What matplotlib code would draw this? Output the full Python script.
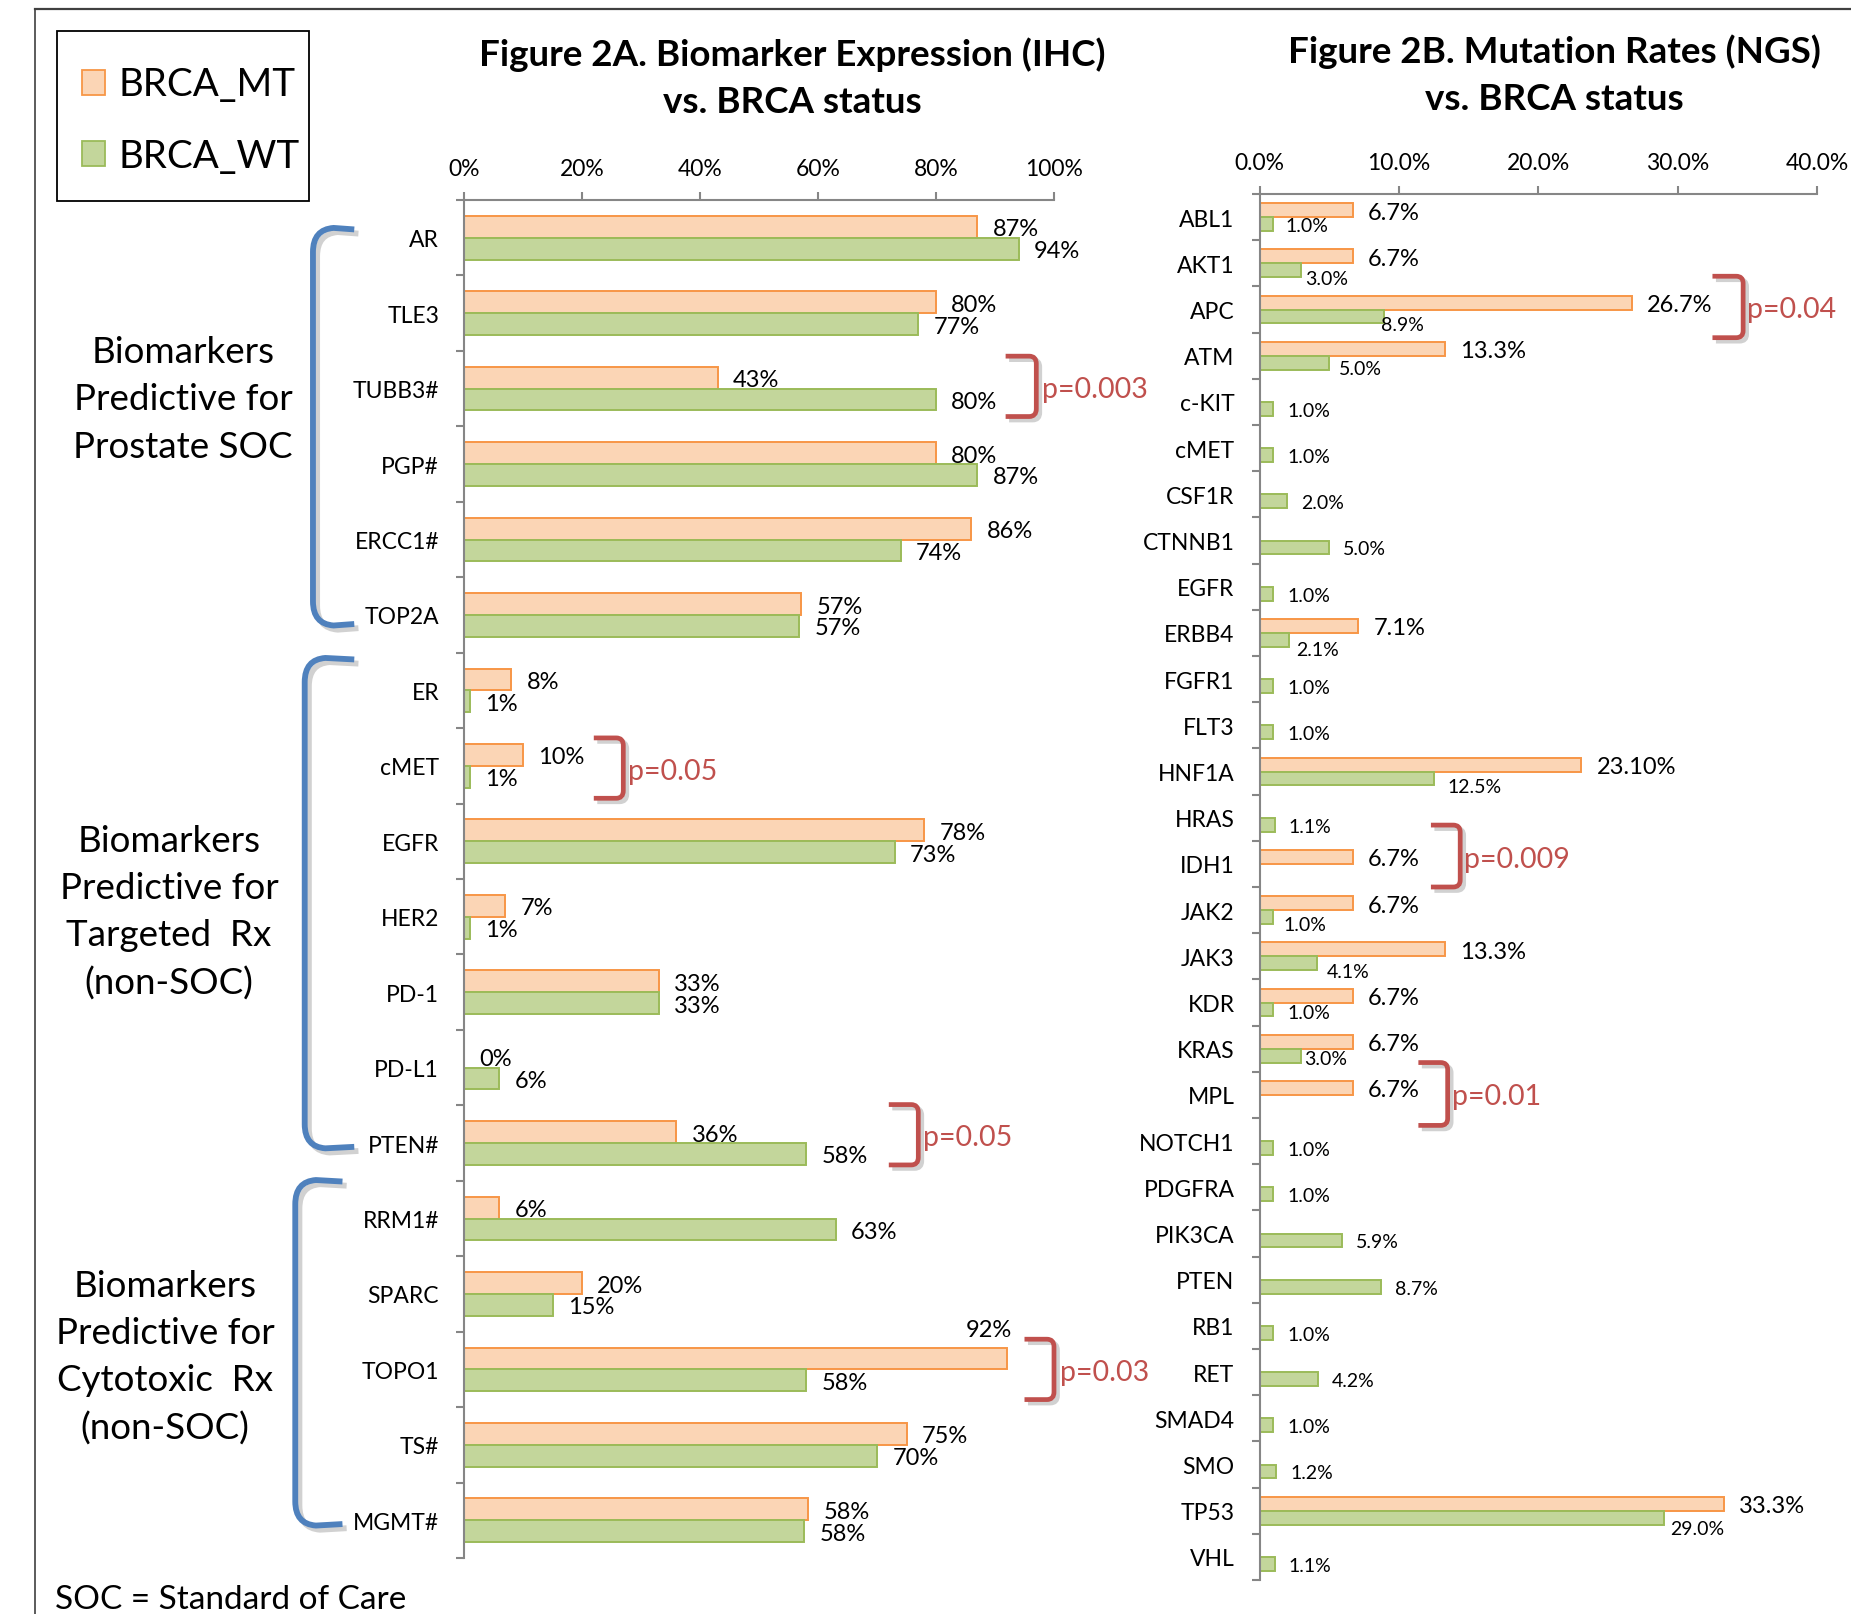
import matplotlib
matplotlib.use('Agg')
import matplotlib.pyplot as plt
from matplotlib.path import Path
from matplotlib.patches import PathPatch, Rectangle
from matplotlib.lines import Line2D
from matplotlib.ticker import FuncFormatter, FixedLocator
import matplotlib.patheffects as pe
import numpy as np

plt.rcParams['font.family'] = ['Lato', 'DejaVu Sans']

# ---------------- data ----------------
series_names = ['BRCA_MT', 'BRCA_WT']

ihc_markers = ['AR', 'TLE3', 'TUBB3#', 'PGP#', 'ERCC1#', 'TOP2A',
               'ER', 'cMET', 'EGFR', 'HER2', 'PD-1', 'PD-L1', 'PTEN#',
               'RRM1#', 'SPARC', 'TOPO1', 'TS#', 'MGMT#']
ihc_mt = [87, 80, 43, 80, 86, 57.2, 8, 10, 78, 7, 33, 0, 36, 6, 20, 92, 75, 58.3]
ihc_wt = [94, 77, 80, 87, 74, 56.8, 1, 1, 73, 1, 33, 6, 58, 63, 15, 58, 70, 57.7]
ihc_ticks = [0, 20, 40, 60, 80, 100]

ngs_genes = ['ABL1', 'AKT1', 'APC', 'ATM', 'c-KIT', 'cMET', 'CSF1R', 'CTNNB1',
             'EGFR', 'ERBB4', 'FGFR1', 'FLT3', 'HNF1A', 'HRAS', 'IDH1', 'JAK2',
             'JAK3', 'KDR', 'KRAS', 'MPL', 'NOTCH1', 'PDGFRA', 'PIK3CA', 'PTEN',
             'RB1', 'RET', 'SMAD4', 'SMO', 'TP53', 'VHL']
ngs_mt = [6.7, 6.7, 26.7, 13.3, None, None, None, None, None, 7.1, None, None,
          23.1, None, 6.7, 6.7, 13.3, 6.7, 6.7, 6.7, None, None, None, None,
          None, None, None, None, 33.3, None]
ngs_mt_labels = ['6.7%', '6.7%', '26.7%', '13.3%', None, None, None, None, None,
                 '7.1%', None, None, '23.10%', None, '6.7%', '6.7%', '13.3%',
                 '6.7%', '6.7%', '6.7%', None, None, None, None, None, None,
                 None, None, '33.3%', None]
ngs_wt = [1.0, 3.0, 8.9, 5.0, 1.0, 1.0, 2.0, 5.0, 1.0, 2.1, 1.0, 1.0, 12.5, 1.1,
          None, 1.0, 4.1, 1.0, 3.0, None, 1.0, 1.0, 5.9, 8.7, 1.0, 4.2, 1.0,
          1.2, 29.0, 1.1]
ngs_ticks = [0, 10, 20, 30, 40]

groups = ['Biomarkers\nPredictive for\nProstate SOC',
          'Biomarkers\nPredictive for\nTargeted  Rx\n(non-SOC)',
          'Biomarkers\nPredictive for\nCytotoxic  Rx\n(non-SOC)']

ihc_pvals = [('TUBB3#', 'p=0.003'), ('cMET', 'p=0.05'), ('PTEN#', 'p=0.05'), ('TOPO1', 'p=0.03')]
ngs_pvals = [('APC', 'p=0.04'), ('IDH1', 'p=0.009'), ('MPL', 'p=0.01')]

# ---------------- style ----------------
W, H, DPI = 1851, 1615, 100
MT_FACE, MT_EDGE = '#FBD5B5', '#F79646'
WT_FACE, WT_EDGE = '#C3D69B', '#9BBB59'
BLUE = '#4F81BD'
RED = '#C0504D'
AXC = '#868686'

def fx(px):
    return px / W

def fy(py):
    return 1 - py / H

fig = plt.figure(figsize=(W / DPI, H / DPI), dpi=DPI)
fig.patch.set_facecolor('white')

# outer frame (top + left)
fig.add_artist(Line2D([fx(35), 1.0], [fy(10), fy(10)], transform=fig.transFigure,
                      color='#404040', lw=1.6))
fig.add_artist(Line2D([fx(35), fx(35)], [fy(10), 0.0], transform=fig.transFigure,
                      color='#404040', lw=1.2))


def style_axes(ax, n, ticks, fmt):
    ax.set_ylim(n - 0.5, -0.5)
    ax.set_xlim(ticks[0], ticks[-1])
    for s in ['right', 'bottom']:
        ax.spines[s].set_visible(False)
    for s in ['top', 'left']:
        ax.spines[s].set_color(AXC)
        ax.spines[s].set_linewidth(1.5)
    ax.xaxis.tick_top()
    ax.xaxis.set_major_locator(FixedLocator(ticks))
    ax.xaxis.set_major_formatter(FuncFormatter(fmt))
    ax.tick_params(axis='x', which='major', direction='out', length=6, width=1.5,
                   color=AXC, labelsize=16.5, pad=9, labelcolor='black')
    ax.set_yticks(np.arange(n))
    ax.set_yticks(np.arange(n + 1) - 0.5, minor=True)
    ax.tick_params(axis='y', which='major', length=0, pad=18, labelsize=16.5)
    ax.tick_params(axis='y', which='minor', direction='out', length=6, width=1.5, color=AXC)
    ax.set_facecolor('none')


# ---------------- Figure 2A ----------------
ax1 = fig.add_axes([fx(464), fy(1559), fx(1054) - fx(464), (1559 - 201) / H])
n1 = len(ihc_markers)
y1 = np.arange(n1)
bh1 = 0.29
ax1.barh(y1 - bh1 / 2, ihc_mt, height=bh1, color=MT_FACE, edgecolor=MT_EDGE,
         linewidth=1.4, label=series_names[0])
ax1.barh(y1 + bh1 / 2, ihc_wt, height=bh1, color=WT_FACE, edgecolor=WT_EDGE,
         linewidth=1.4, label=series_names[1])
style_axes(ax1, n1, ihc_ticks, lambda v, p: f'{v:.0f}%')
ax1.set_yticklabels(ihc_markers)

mt_label_special = {'TOPO1': dict(xytext=(4, 22), ha='right')}
for i, (m, w) in enumerate(zip(ihc_mt, ihc_wt)):
    spec = mt_label_special.get(ihc_markers[i], dict(xytext=(11, 0), ha='left'))
    ax1.annotate(f'{m:.0f}%', xy=(m, i - bh1 / 2), textcoords='offset points',
                 va='center_baseline', fontsize=17, annotation_clip=False, **spec)
    ax1.annotate(f'{w:.0f}%', xy=(w, i + bh1 / 2), xytext=(11, 0),
                 textcoords='offset points', ha='left', va='center_baseline',
                 fontsize=17, annotation_clip=False)

# ---------------- Figure 2B ----------------
ax2 = fig.add_axes([fx(1259.5), fy(1581), fx(1817) - fx(1259.5), (1581 - 195) / H])
n2 = len(ngs_genes)
y2 = np.arange(n2)
bh2 = 0.3
mt_idx = [i for i, v in enumerate(ngs_mt) if v is not None]
wt_idx = [i for i, v in enumerate(ngs_wt) if v is not None]
ax2.barh([i - bh2 / 2 for i in mt_idx], [ngs_mt[i] for i in mt_idx], height=bh2,
         color=MT_FACE, edgecolor=MT_EDGE, linewidth=1.4)
ax2.barh([i + bh2 / 2 for i in wt_idx], [ngs_wt[i] for i in wt_idx], height=bh2,
         color=WT_FACE, edgecolor=WT_EDGE, linewidth=1.4)
style_axes(ax2, n2, ngs_ticks, lambda v, p: f'{v:.1f}%')
ax2.set_yticklabels(ngs_genes)

wt_label_offsets = {'ABL1': (9, 0), 'AKT1': (3, -5), 'APC': (-2, -5), 'ATM': (7, -3),
                    'ERBB4': (5, -6), 'HNF1A': (10, -5), 'JAK2': (7, -4),
                    'JAK3': (7, -5), 'KDR': (10, -1), 'KRAS': (2, -1), 'TP53': (5, -7)}
for i in mt_idx:
    ax2.annotate(ngs_mt_labels[i], xy=(ngs_mt[i], i - bh2 / 2), xytext=(11, 0),
                 textcoords='offset points', ha='left', va='center_baseline',
                 fontsize=17, annotation_clip=False)
for i in wt_idx:
    off = wt_label_offsets.get(ngs_genes[i], (10, 0))
    ax2.annotate(f'{ngs_wt[i]:.1f}%', xy=(ngs_wt[i], i + bh2 / 2), xytext=off,
                 textcoords='offset points', ha='left', va='center_baseline',
                 fontsize=14, annotation_clip=False)

# ---------------- p-value brackets ----------------
shadow = [pe.Stroke(offset=(2.5, -2.5), linewidth=3.4, foreground='#999999', alpha=0.45),
          pe.Normal()]


def red_bracket(ax, y0, y1_, xl, xr, tx, text, r):
    verts = [(xl, y0), (xr - r[0], y0), (xr, y0), (xr, y0 + r[1]),
             (xr, y1_ - r[1]), (xr, y1_), (xr - r[0], y1_), (xl, y1_)]
    codes = [Path.MOVETO, Path.LINETO, Path.CURVE3, Path.CURVE3,
             Path.LINETO, Path.CURVE3, Path.CURVE3, Path.LINETO]
    patch = PathPatch(Path(verts, codes), fill=False, edgecolor=RED, lw=3.4,
                      clip_on=False, capstyle='butt', joinstyle='round',
                      path_effects=shadow)
    ax.add_patch(patch)
    ax.text(tx, (y0 + y1_) / 2, text, color=RED, fontsize=20.5, ha='left',
            va='center_baseline', clip_on=False)


# spans (category units / axis units)
ihc_br = {'TUBB3#': (1.57, 2.37, 91.8, 97.0, 98.0),
          'cMET': (6.63, 7.43, 22.0, 27.0, 27.8),
          'PTEN#': (11.49, 12.29, 72.0, 77.0, 77.8),
          'TOPO1': (14.6, 15.4, 95.0, 100.0, 101.0)}
for name, txt in ihc_pvals:
    a, b, xl, xr, tx = ihc_br[name]
    red_bracket(ax1, a, b, xl, xr, tx, txt, (1.2, 0.1))

ngs_br = {'APC': (1.28, 2.61, 32.5, 34.7, 35.0),
          'IDH1': (13.16, 14.5, 12.3, 14.4, 14.7),
          'MPL': (18.3, 19.66, 11.4, 13.5, 13.8)}
for name, txt in ngs_pvals:
    a, b, xl, xr, tx = ngs_br[name]
    red_bracket(ax2, a, b, xl, xr, tx, txt, (0.5, 0.15))

# ---------------- group brackets (blue) ----------------
bshadow = [pe.Stroke(offset=(3, -3), linewidth=4.2, foreground='#999999', alpha=0.45),
           pe.Normal()]
group_spans = [(-0.11, 5.12, -25.6, -18.6), (5.59, 12.05, -27.0, -18.6),
               (12.51, 17.05, -28.6, -20.6)]
for (a, b, xv, xa) in group_spans:
    rx, ry = 3.5, 0.3
    verts = [(xa, a), (xv + rx, a - 0.02), (xv, a), (xv, a + ry),
             (xv, b - ry), (xv, b), (xv + rx, b + 0.02), (xa, b)]
    codes = [Path.MOVETO, Path.LINETO, Path.CURVE3, Path.CURVE3,
             Path.LINETO, Path.CURVE3, Path.CURVE3, Path.LINETO]
    ax1.add_patch(PathPatch(Path(verts, codes), fill=False, edgecolor=BLUE, lw=4.2,
                            clip_on=False, capstyle='butt', path_effects=bshadow))

group_pos = [(183, 400), (169, 913), (165, 1358)]
for txt, (gx, gy) in zip(groups, group_pos):
    fig.text(fx(gx), fy(gy), txt, ha='center', va='center', fontsize=26.5,
             linespacing=1.52, multialignment='center')

# ---------------- titles ----------------
fig.text(fx(792), fy(78), 'Figure 2A. Biomarker Expression (IHC)\nvs. BRCA status',
         ha='center', va='center', fontsize=26.5, fontweight='bold', linespacing=1.5)
fig.text(fx(1554), fy(75), 'Figure 2B. Mutation Rates (NGS)\nvs. BRCA status',
         ha='center', va='center', fontsize=26.5, fontweight='bold', linespacing=1.5)

# ---------------- legend ----------------
fig.add_artist(Rectangle((fx(57), fy(202)), fx(309) - fx(57), (202 - 32) / H,
                         transform=fig.transFigure, fill=False, edgecolor='black', lw=1.3))
for k, (face, edge, cy) in enumerate([(MT_FACE, MT_EDGE, 84), (WT_FACE, WT_EDGE, 155)]):
    fig.add_artist(Rectangle((fx(82), fy(cy + 12)), 23 / W, 25 / H,
                             transform=fig.transFigure, facecolor=face,
                             edgecolor=edge, lw=1.3))
    fig.text(fx(118), fy(cy - 2), series_names[k], ha='left', va='center_baseline',
             fontsize=27.7)

# footnote
fig.text(fx(55), fy(1597), 'SOC = Standard of Care', ha='left', va='center_baseline',
         fontsize=24)

fig.savefig('out.png', dpi=DPI, facecolor='white')
